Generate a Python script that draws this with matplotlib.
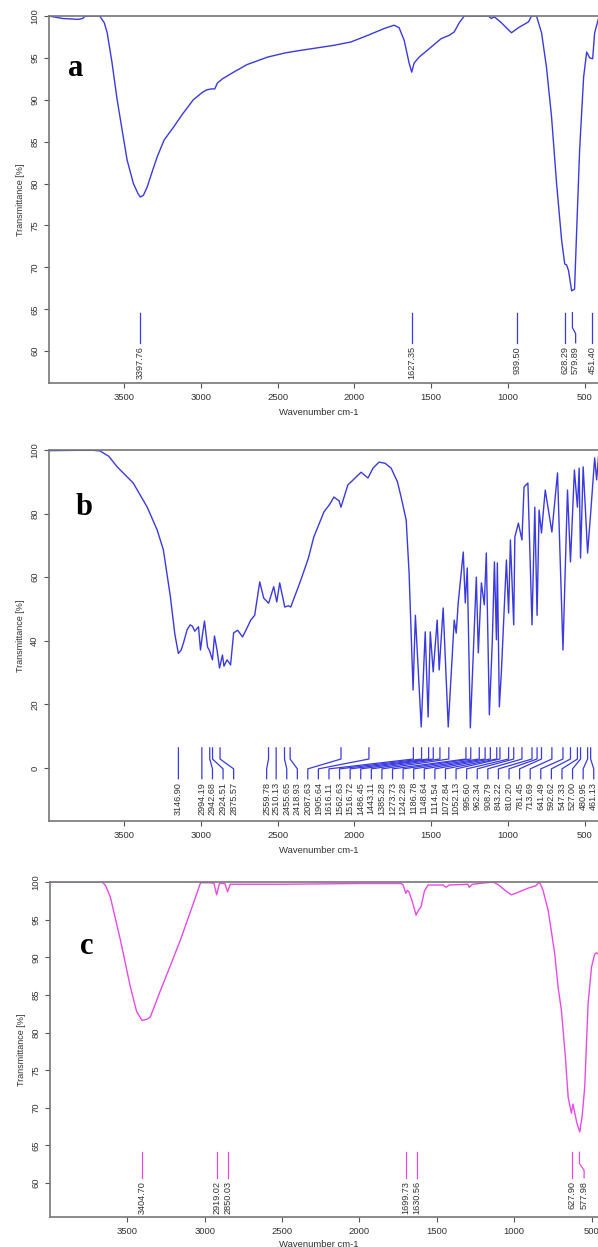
import matplotlib.pyplot as plt
import numpy as np

plt.rcParams['font.family'] = ['Liberation Sans', 'DejaVu Sans']

# ---- spectrum a ----
wn_a = [3990, 3900, 3800, 3770, 3755, 3700, 3660, 3630, 3611, 3580, 3546, 3510, 3481,
        3440, 3410, 3395, 3375, 3350, 3320, 3285, 3240, 3180, 3120, 3050, 2990, 2960,
        2930, 2910, 2893, 2860, 2787, 2700, 2565, 2450, 2350, 2134, 2023, 1912, 1807,
        1742, 1709, 1676, 1644, 1627, 1611, 1578, 1500, 1435, 1382, 1350, 1317, 1284,
        1200, 1127, 1108, 1088, 1043, 977, 932, 866, 846, 814, 781, 749, 716, 683,
        650, 630, 618, 605, 585, 566, 553, 533, 507, 487, 467, 448, 435, 410]
T_a = [100, 99.7, 99.6, 99.7, 100, 100, 100, 99.2, 98.0, 94.5, 90.0, 86.0, 82.8,
       80.0, 78.8, 78.4, 78.6, 79.6, 81.3, 83.2, 85.2, 86.7, 88.3, 90.0, 90.9, 91.2,
       91.3, 91.3, 92.0, 92.5, 93.3, 94.2, 95.1, 95.6, 95.9, 96.5, 96.9, 97.7, 98.5,
       98.9, 98.6, 97.1, 94.4, 93.3, 94.4, 95.1, 96.3, 97.3, 97.7, 98.1, 99.2, 100,
       100, 100, 99.7, 99.9, 99.2, 98.0, 98.6, 99.3, 100, 100, 98.0, 93.9, 88.0, 80.0,
       73.2, 70.4, 70.3, 69.6, 67.2, 67.4, 74.0, 84.0, 92.7, 95.7, 95.0, 94.9, 98.0, 99.7]
peaks_a = [3397.76, 1627.35, 939.50, 628.29, 579.89, 451.40]
labpos_a = [3397.76, 1627.35, 939.50, 628.29, 559.0, 451.40]

# ---- spectrum b ----
wn_b = [3990, 3800, 3700, 3657, 3600, 3546, 3441, 3350, 3285, 3245, 3199, 3170, 3147,
        3130, 3114, 3090, 3070, 3056, 3040, 3016, 3003, 2990, 2977, 2957, 2945, 2925,
        2912, 2895, 2879, 2860, 2850, 2830, 2807, 2787, 2761, 2729, 2700, 2676, 2650,
        2617, 2591, 2559, 2526, 2506, 2487, 2454, 2430, 2415, 2350, 2300, 2265, 2199,
        2160, 2134, 2100, 2088, 2043, 2000, 1957, 1912, 1879, 1840, 1800, 1761, 1720,
        1696, 1663, 1644, 1618, 1603, 1565, 1539, 1520, 1506, 1487, 1461, 1448, 1422,
        1389, 1350, 1337, 1324, 1291, 1278, 1265, 1245, 1206, 1193, 1173, 1154, 1141,
        1121, 1102, 1088, 1075, 1069, 1056, 1043, 1010, 995.6, 984, 962.3, 955, 932,
        908.8, 895, 870, 843.2, 825, 810.2, 797, 781.5, 757, 713.7, 677, 641.5, 612,
        592.6, 567, 547.3, 536, 527, 510, 495, 481, 461, 435, 422, 410]
T_b = [99.8, 99.9, 99.9, 99.7, 98.0, 94.7, 89.6, 82.0, 74.8, 68.6, 53.8, 42.0, 36.0,
       37.0, 39.3, 43.5, 45.0, 44.6, 43.0, 44.4, 37.1, 42.0, 46.2, 38.0, 37.0, 34.0,
       41.5, 37.0, 31.4, 35.5, 32.0, 34.0, 32.4, 42.5, 43.3, 41.2, 44.0, 46.5, 48.0,
       58.5, 53.4, 51.8, 57.0, 52.2, 58.2, 50.6, 51.0, 50.6, 59.0, 66.0, 72.6, 80.5,
       83.0, 85.2, 84.0, 82.0, 89.0, 91.0, 93.0, 91.2, 94.3, 96.2, 95.8, 94.3, 90.0,
       85.2, 78.0, 61.3, 24.5, 48.0, 12.9, 42.8, 16.0, 42.8, 30.2, 46.5, 30.8, 50.3,
       12.9, 46.5, 42.4, 51.9, 67.9, 51.9, 62.9, 12.6, 60.0, 36.2, 58.2, 51.3, 67.6,
       16.7, 39.6, 64.8, 40.3, 64.5, 19.2, 29.9, 65.4, 48.7, 71.7, 45.0, 72.6, 77.0,
       71.7, 88.4, 89.6, 45.0, 82.0, 48.0, 81.1, 73.9, 87.4, 74.2, 92.8, 37.1, 87.4,
       64.8, 93.7, 82.0, 94.3, 66.0, 94.7, 81.1, 67.6, 80.2, 97.5, 90.6, 98.0]
peaks_b = [3146.90, 2994.19, 2942.68, 2924.51, 2875.57, 2559.78, 2510.13, 2455.65,
           2418.93, 2087.63, 1905.64, 1616.11, 1562.63, 1516.72, 1486.45, 1443.11,
           1385.28, 1273.73, 1242.28, 1186.78, 1148.64, 1114.54, 1072.84, 1052.13,
           995.60, 962.34, 908.79, 843.22, 810.20, 781.45, 713.69, 641.49, 592.62,
           547.33, 527.00, 480.95, 461.13]
labpos_b = [3147, 2994, 2925, 2856, 2787, 2572, 2510, 2441, 2372] + list(np.linspace(2304, 441, 28))

# ---- spectrum c ----
wn_c = [3999, 3800, 3662, 3640, 3610, 3545, 3481, 3440, 3405, 3370, 3351, 3286, 3220,
        3157, 3090, 3027, 2960, 2940, 2923, 2905, 2870, 2852, 2835, 2500, 2000, 1730,
        1718, 1700, 1690, 1680, 1660, 1634, 1620, 1602, 1580, 1557, 1460, 1440, 1420,
        1300, 1290, 1270, 1135, 1100, 1060, 1018, 990, 908, 860, 837, 815, 781, 760,
        738, 716, 695, 670, 651, 630, 620, 612, 595, 576, 560, 544, 522, 500, 480, 468, 455]
T_c = [100, 100, 100, 99.5, 98.0, 92.3, 86.1, 82.8, 81.6, 81.8, 82.1, 85.6, 89.0,
       92.3, 96.2, 99.9, 99.9, 99.8, 98.3, 99.8, 99.8, 98.7, 99.7, 99.7, 99.8, 99.8,
       99.6, 98.5, 98.9, 98.7, 97.5, 95.6, 96.2, 96.7, 98.8, 99.6, 99.6, 99.3, 99.6,
       99.7, 99.3, 99.7, 100, 99.6, 98.9, 98.3, 98.5, 99.2, 99.5, 100, 99.0, 96.3, 93.5,
       90.5, 86.0, 83.0, 77.0, 71.4, 69.3, 70.5, 69.7, 68.0, 66.8, 69.0, 72.8, 83.9,
       88.7, 90.4, 90.6, 90.4]
peaks_c = [3404.70, 2919.02, 2850.03, 1699.73, 1630.56, 627.90, 577.98]
labpos_c = [3404.70, 2919.02, 2850.03, 1699.73, 1630.56, 627.90, 548.0]

W, H = 598, 1247
fig = plt.figure(figsize=(W / 100, H / 100), dpi=100)


def panel(px_left, px_top, px_bottom, xlim, ylim, yticks, wn, T, color,
          peaks, labpos, lead, letter, letter_xy):
    ax = fig.add_axes([px_left / W, 1 - px_bottom / H, (598.5 - px_left) / W,
                       (px_bottom - px_top) / H])
    ax.plot(wn, T, color=color, lw=1.0)
    top, y1, y2, bot, ytxt = lead
    for p, q in zip(peaks, labpos):
        ax.plot([p, p, q, q], [top, y1, y2, bot], color=color, lw=0.9)
        ax.text(q, ytxt, '%.2f' % p, rotation=90, ha='center', va='top',
                fontsize=6.6, color='#333333')
    ax.set_xlim(xlim)
    ax.set_ylim(ylim)
    ax.set_xticks([3500, 3000, 2500, 2000, 1500, 1000, 500])
    ax.set_yticks(yticks)
    for s in ax.spines.values():
        s.set_color('#777777')
        s.set_linewidth(1.2)
    ax.tick_params(colors='#555555', labelcolor='#333333', labelsize=6.8,
                   length=3.5, width=0.8)
    plt.setp(ax.get_yticklabels(), rotation=90, va='center')
    ax.set_ylabel('Transmittance [%]', fontsize=6.5, color='#333333', labelpad=4)
    ax.set_xlabel('Wavenumber cm-1', fontsize=6.8, color='#333333', labelpad=4)
    ax.xaxis.set_label_coords(0.49, -0.068)
    ax.text(letter_xy[0] / W, 1 - letter_xy[1] / H, letter, transform=fig.transFigure,
            fontfamily='Liberation Serif', fontweight='bold', fontsize=22,
            ha='center', va='center')
    return ax


panel(49, 16, 383, (3990, 410), (56.2, 100), [60, 65, 70, 75, 80, 85, 90, 95, 100],
      wn_a, T_a, '#3a3ae0', peaks_a, labpos_a, (64.6, 62.8, 62.1, 61.0, 60.6),
      'a', (76, 68))
panel(49, 450, 821, (3990, 410), (-16.7, 100), [0, 20, 40, 60, 80, 100],
      wn_b, T_b, '#3a3ae0', peaks_b, labpos_b, (6.3, 2.8, -0.3, -3.4, -4.4),
      'b', (84, 507))
panel(50, 882, 1217, (4000, 455), (55.5, 100), [60, 65, 70, 75, 80, 85, 90, 95, 100],
      wn_c, T_c, '#e84ae8', peaks_c, labpos_c, (64.1, 62.6, 61.7, 60.7, 60.3),
      'c', (87, 946))

fig.savefig('out.png', dpi=100)
